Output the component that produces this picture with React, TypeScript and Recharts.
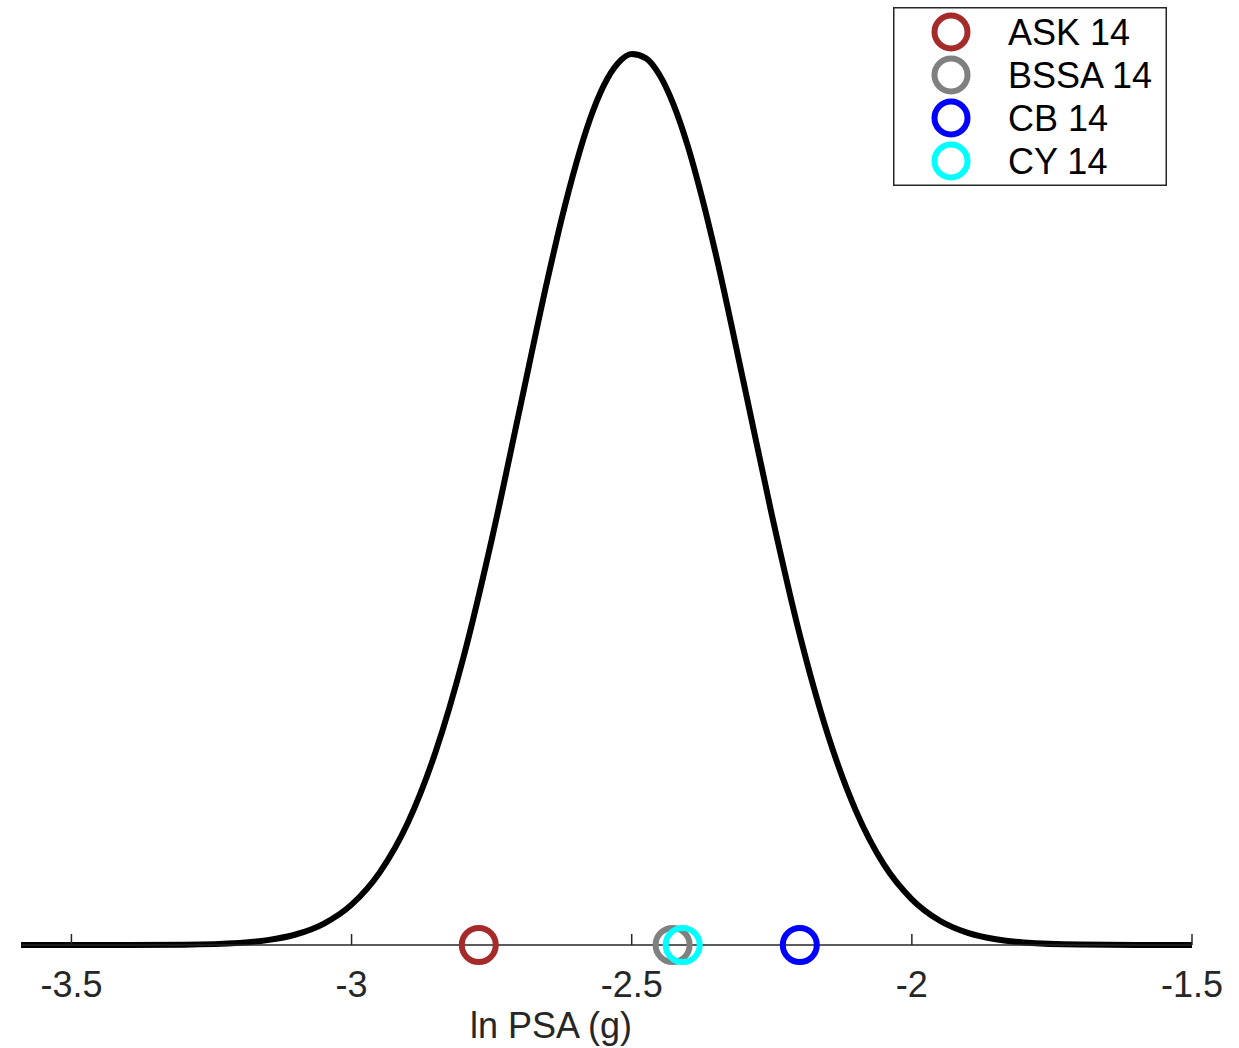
import React from 'react'
import { ComposedChart, Line, Scatter, XAxis, YAxis, Legend } from 'recharts'

// density curve
const curveX = [
  -3.59, -3.5, -3.4, -3.3, -3.2, -3.15, -3.1, -3.05, -3.0, -2.95, -2.9, -2.85, -2.8, -2.75,
  -2.7, -2.65, -2.625, -2.6, -2.575, -2.55, -2.525, -2.5, -2.475, -2.45, -2.425, -2.4, -2.375,
  -2.35, -2.3, -2.25, -2.2, -2.15, -2.1, -2.05, -2.0, -1.95, -1.9, -1.85, -1.8, -1.7, -1.6, -1.5,
]
const curveY = [
  0.0, 0.0, 0.0001, 0.0008, 0.0047, 0.0108, 0.0232, 0.0469, 0.0892, 0.16, 0.269, 0.427, 0.637,
  0.895, 1.183, 1.472, 1.605, 1.723, 1.823, 1.899, 1.948, 1.969, 1.96, 1.922, 1.856, 1.766, 1.654,
  1.527, 1.242, 0.951, 0.685, 0.465, 0.297, 0.178, 0.101, 0.0536, 0.0268, 0.0127, 0.0056, 0.0009,
  0.0001, 0.0,
]

const modelNames = ['ASK 14', 'BSSA 14', 'CB 14', 'CY 14']
const modelValues = [-2.773, -2.427, -2.2, -2.409]
const modelColors = ['#A52A2A', '#808080', '#0000FF', '#00FFFF']

const xTicks = [-3.5, -3, -2.5, -2, -1.5]

const curveData = curveX.map((x, i) => ({ x, y: curveY[i] }))

const FONT = '"Liberation Sans", Arial, Helvetica, sans-serif'

const AxisTick = (props: any) => {
  const { x, y, payload } = props
  return (
    <g>
      <line x1={x} y1={y} x2={x} y2={y - 11} stroke="#262626" strokeWidth={1.5} />
      <text x={x} y={y + 52} textAnchor="middle" fontSize={36} fontFamily={FONT} fill="#262626">
        {payload.value}
      </text>
    </g>
  )
}

const LegendBox = () => (
  <svg width={274} height={179} style={{ display: 'block' }}>
    <rect x={0.75} y={0.75} width={272.5} height={177.5} fill="#fff" stroke="#262626" strokeWidth={1.5} />
    {modelNames.map((name, i) => (
      <g key={name}>
        <circle cx={58} cy={25 + i * 43} r={16.5} fill="none" stroke={modelColors[i]} strokeWidth={6} />
        <text x={115} y={38 + i * 43} fontSize={36} fontFamily={FONT} fill="#000">
          {name}
        </text>
      </g>
    ))}
  </svg>
)

const App = () => {
  return (
    <div style={{ position: 'absolute', left: 0, top: 0, background: '#fff' }}>
      <ComposedChart width={1239} height={1048} margin={{ top: 40, right: 47, bottom: 43, left: 21 }}>
        <XAxis
          type="number"
          dataKey="x"
          domain={[-3.59, -1.5]}
          ticks={xTicks}
          height={60}
          tickSize={0}
          tickMargin={0}
          tickLine={false}
          tick={AxisTick}
          interval={0}
          axisLine={{ stroke: '#262626', strokeWidth: 1.5 }}
          allowDataOverflow
          label={() => (
            <text x={551} y={1038} textAnchor="middle" fontSize={36} fontFamily={FONT} fill="#262626">
              ln PSA (g)
            </text>
          )}
        />
        <YAxis type="number" dataKey="y" domain={[0, 2]} hide />
        <Line
          data={curveData}
          dataKey="y"
          type="monotone"
          stroke="#000"
          strokeWidth={6}
          dot={false}
          activeDot={false}
          isAnimationActive={false}
        />
        {modelNames.map((name, i) => (
          <Scatter
            key={name}
            name={name}
            data={[{ x: modelValues[i], y: 0 }]}
            dataKey="y"
            isAnimationActive={false}
            shape={(p: any) => (
              <circle cx={p.cx} cy={p.cy} r={17} fill="none" stroke={modelColors[i]} strokeWidth={6} />
            )}
          />
        ))}
        <Legend
          content={LegendBox}
          layout="vertical"
          align="center"
          verticalAlign="middle"
          wrapperStyle={{ position: 'absolute', top: 7, left: 893, width: 274, height: 179 }}
        />
      </ComposedChart>
    </div>
  )
}

export default App
